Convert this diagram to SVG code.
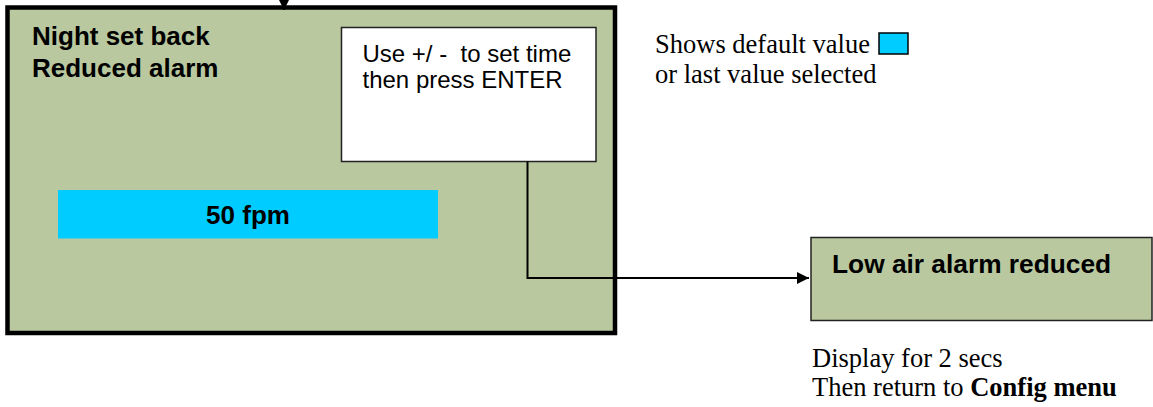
<svg xmlns="http://www.w3.org/2000/svg" width="1153" height="407" viewBox="0 0 1153 407">
<defs>
<style>
.sans{font-family:"Liberation Sans",Arial,sans-serif;fill:#000}
.b{font-weight:bold}
.serif{font-family:"Liberation Serif","Times New Roman",serif;fill:#000}
.green{fill:#B9C89F}
.line{fill:none;stroke:#000;stroke-width:2}
</style>
<marker id="arr" markerWidth="14" markerHeight="14" refX="12" refY="6" orient="auto" markerUnits="userSpaceOnUse">
<path d="M0,0 L12,6 L0,12 Z" fill="#000"/>
</marker>
</defs>
<rect width="1153" height="407" fill="#fff"/>
<g id="main-screen">
<rect class="green" x="7.5" y="7.5" width="607.5" height="325.5" stroke="#000" stroke-width="4.5"/>
<text class="sans b" x="32" y="45" font-size="26">Night set back</text>
<text class="sans b" x="32" y="77" font-size="26">Reduced alarm</text>
</g>
<g id="value-box">
<rect x="58" y="190" width="380" height="48.5" fill="#00CCFF"/>
<text class="sans b" x="248" y="224" font-size="26" text-anchor="middle">50 fpm</text>
</g>
<g id="instruction-box">
<rect x="341.5" y="27.5" width="254.5" height="134" fill="#fff" stroke="#222" stroke-width="1.5"/>
<text class="sans" x="362.5" y="61.7" font-size="24" xml:space="preserve">Use +/ -  to set time</text>
<text class="sans" x="362.5" y="88" font-size="24">then press ENTER</text>
</g>
<g id="legend">
<text class="serif" x="655" y="53.3" font-size="26.5">Shows default value</text>
<rect x="879" y="33" width="29" height="21" fill="#00CCFF" stroke="#000" stroke-width="1.5"/>
<text class="serif" x="655" y="83.3" font-size="26.5">or last value selected</text>
</g>
<g id="low-air-screen">
<rect class="green" x="811" y="237.5" width="341" height="83" stroke="#222" stroke-width="1.5"/>
<text class="sans b" x="832" y="273" font-size="26.3">Low air alarm reduced</text>
</g>
<g id="note">
<text class="serif" x="812" y="366.5" font-size="26.5">Display for 2 secs</text>
<text class="serif" x="812" y="396" font-size="26.5">Then return to <tspan font-weight="bold">Config menu</tspan></text>
</g>
<g id="connectors">
<path class="line" d="M284,0 V10" marker-end="url(#arr)"/>
<path class="line" d="M527.5,161.5 V278 H809" marker-end="url(#arr)"/>
</g>
</svg>
